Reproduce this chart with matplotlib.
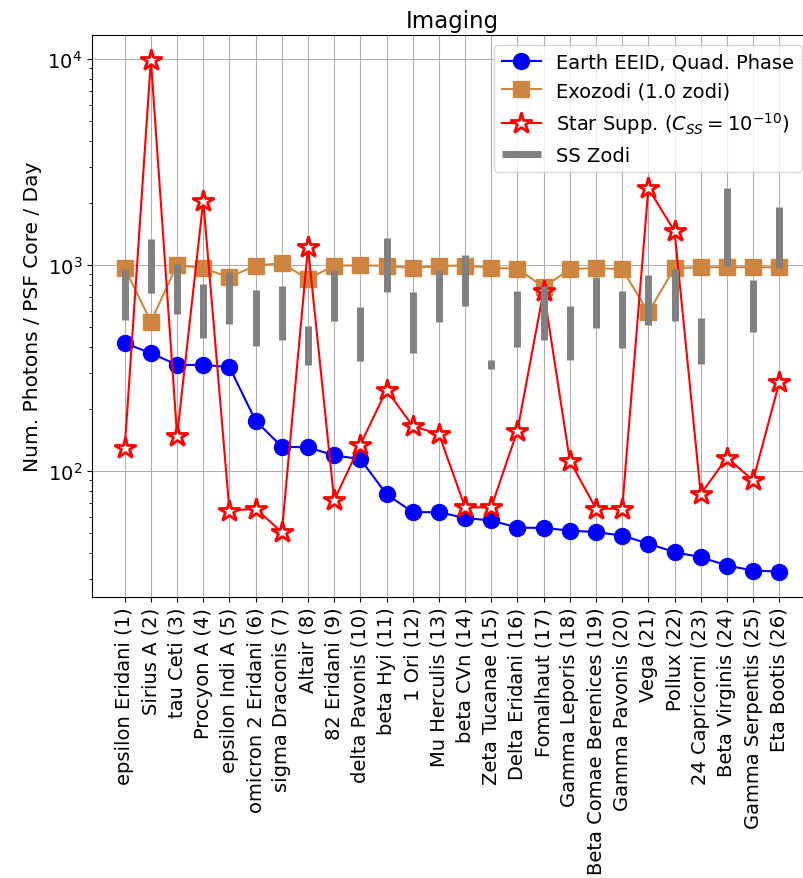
import numpy as np
import matplotlib
matplotlib.use("Agg")
import matplotlib.pyplot as plt

# star names (target list order)
stars = ["epsilon Eridani (1)", "Sirius A (2)", "tau Ceti (3)", "Procyon A (4)",
         "epsilon Indi A (5)", "omicron 2 Eridani (6)", "sigma Draconis (7)",
         "Altair (8)", "82 Eridani (9)", "delta Pavonis (10)", "beta Hyi (11)",
         "1 Ori (12)", "Mu Herculis (13)", "beta CVn (14)", "Zeta Tucanae (15)",
         "Delta Eridani (16)", "Fomalhaut (17)", "Gamma Leporis (18)",
         "Beta Comae Berenices (19)", "Gamma Pavonis (20)", "Vega (21)",
         "Pollux (22)", "24 Capricorni (23)", "Beta Virginis (24)",
         "Gamma Serpentis (25)", "Eta Bootis (26)"]

earth = [417, 373, 327, 327, 319, 175, 131, 130, 119, 114, 77, 63, 63,
         59, 57.4, 53, 52.8, 51.3, 50.4, 48.5, 44.3, 40.3, 38.1, 34.7, 32.8, 32.4]

exozodi = [964, 531, 1000, 964, 871, 993, 1018, 855, 993, 995, 990, 964, 990,
           993, 966, 960, 779, 953, 966, 953, 589, 966, 974, 974, 974, 974]

star_supp = [129, 9900, 148, 2050, 64, 65.5, 50.4, 1218, 72, 134, 247, 165, 151,
             66.5, 66.5, 157, 750, 112, 65.5, 65.5, 2357, 1457, 77, 116, 89.8, 269]

# solar system zodi range (low, high)
ss_lo = [542, 731, 578, 441, 517, 406, 430, 327, 533, 341, 742, 373, 527,
         635, 313, 398, 434, 346, 494, 394, 511, 533, 331, 990, 474, 964]
ss_hi = [960, 1337, 1011, 808, 921, 759, 794, 507, 946, 623, 1352, 737, 946,
         1119, 347, 750, 794, 631, 871, 745, 898, 960, 551, 2364, 849, 1905]

x = np.arange(len(stars))

fig = plt.figure(figsize=(8.04, 8.79), dpi=100)
# axes right edge runs past the figure edge, like the original crop
ax = fig.add_axes([92/804, 1 - 598/879, 720/804, 562/879])

ax.plot(x, earth, 'o-', color='blue', ms=11.5, lw=1.5, label='Earth EEID, Quad. Phase')
ax.plot(x, exozodi, 's-', color='peru', ms=11, lw=1.5, label='Exozodi (1.0 zodi)')
ax.plot(x, star_supp, '*-', color='red', mfc='white', mec='red', mew=2, ms=16, lw=1.5,
        label=r'Star Supp. ($C_{SS}=10^{-10}$)')
ax.vlines(x, ss_lo, ss_hi, color='gray', lw=5, label='SS Zodi', zorder=3)

ax.set_yscale('log')
ax.set_ylim(24.4, 13080)
ax.set_xlim(-1.25, len(stars) - 1 + 1.25)
ax.set_xticks(x)
ax.set_xticklabels(stars, rotation=90, fontsize=14)
ax.tick_params(axis='y', labelsize=14)
ax.grid(True, which='major')
ax.set_ylabel('Num. Photons / PSF Core / Day', fontsize=14.5)
ax.set_title('Imaging', fontsize=16.5)
ax.legend(loc='upper right', fontsize=14)

fig.savefig('out.png', dpi=100)
